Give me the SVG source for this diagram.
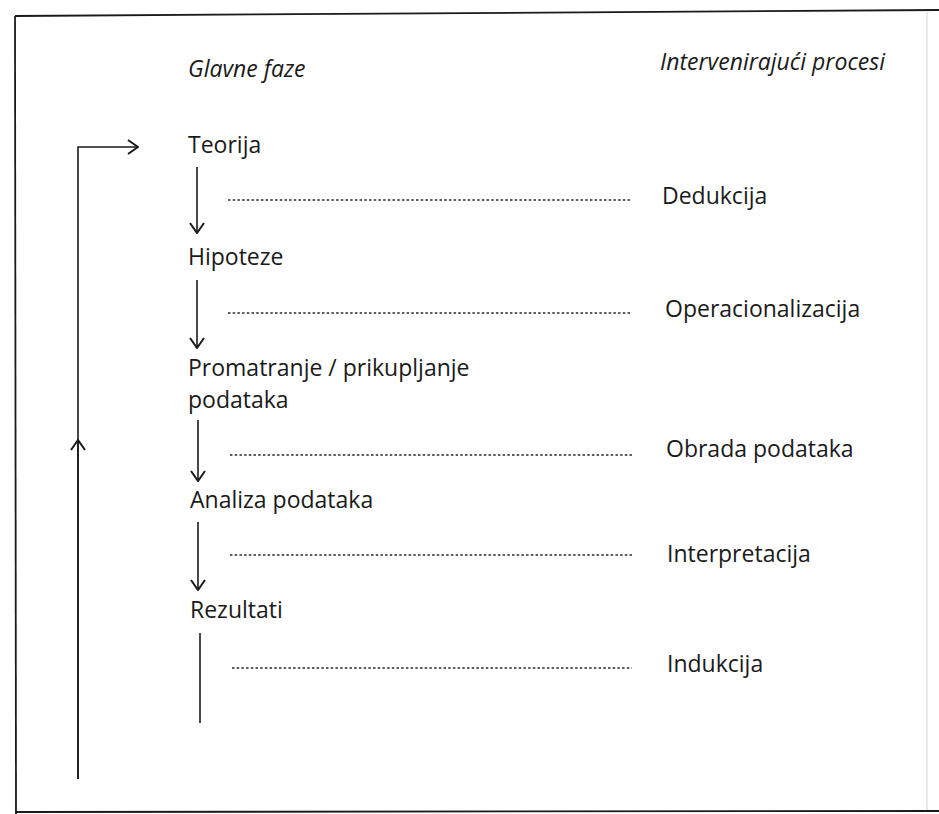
<svg xmlns="http://www.w3.org/2000/svg" width="939" height="814" viewBox="0 0 939 814">
<defs>
<style>
.t{font-family:"Open Sans","Noto Sans","DejaVu Sans",sans-serif;font-size:23px;fill:#1a1a1a}
.h{font-style:italic}
.ln{stroke:#1a1a1a;stroke-width:1.6;fill:none}
.dot{stroke:#2a2a2a;stroke-width:1.3;stroke-dasharray:2.5 2.2;fill:none}
.frame{stroke:#1a1a1a;stroke-width:1.8;fill:none}
</style>
<marker id="arr" viewBox="0 0 12 16" refX="11" refY="8" markerWidth="12" markerHeight="16" markerUnits="userSpaceOnUse" orient="auto">
<path d="M1,1 L11,8 L1,15" stroke="#1a1a1a" stroke-width="2" fill="none"/>
</marker>
</defs>
<rect width="939" height="814" fill="#fff"/>
<g id="frame">
<path class="frame" d="M15,16 L939,10"/>
<path class="frame" d="M15,16 L16,814"/>
<path class="frame" d="M16,812 L939,811"/>
<path d="M927,12 L927,810" stroke="#ddd" stroke-width="1.2" fill="none"/>
</g>
<g id="headers">
<text class="t h" x="188" y="77">Glavne faze</text>
<text class="t h" x="660" y="70">Intervenirajući procesi</text>
</g>
<g id="n-teorija"><text class="t" x="188" y="153">Teorija</text></g>
<g id="n-hipoteze"><text class="t" x="188" y="265">Hipoteze</text></g>
<g id="n-promatranje"><text class="t" x="188" y="376">Promatranje / prikupljanje</text><text class="t" x="188" y="408">podataka</text></g>
<g id="n-analiza"><text class="t" x="190" y="508">Analiza podataka</text></g>
<g id="n-rezultati"><text class="t" x="190" y="618">Rezultati</text></g>
<g id="p-dedukcija"><text class="t" x="662" y="204">Dedukcija</text></g>
<g id="p-operacionalizacija"><text class="t" x="665" y="317">Operacionalizacija</text></g>
<g id="p-obrada"><text class="t" x="666" y="457">Obrada podataka</text></g>
<g id="p-interpretacija"><text class="t" x="667" y="562">Interpretacija</text></g>
<g id="p-indukcija"><text class="t" x="667" y="672">Indukcija</text></g>
<g id="connectors">
<path class="ln" d="M197,167 L197,233" marker-end="url(#arr)"/>
<path class="ln" d="M197,280 L197,348" marker-end="url(#arr)"/>
<path class="ln" d="M198,420 L198,481" marker-end="url(#arr)"/>
<path class="ln" d="M198,522 L198,590" marker-end="url(#arr)"/>
<path class="ln" d="M200,633 L200,723"/>
<path class="ln" d="M78,779 L78,147 L138,147" marker-end="url(#arr)"/>
<path class="ln" d="M78,779 L78,440" marker-end="url(#arr)"/>
<path class="dot" d="M228,200 L632,200"/>
<path class="dot" d="M228,313 L632,313"/>
<path class="dot" d="M230,455 L632,455"/>
<path class="dot" d="M230,555 L632,555"/>
<path class="dot" d="M232,668 L632,668"/>
</g>
</svg>
